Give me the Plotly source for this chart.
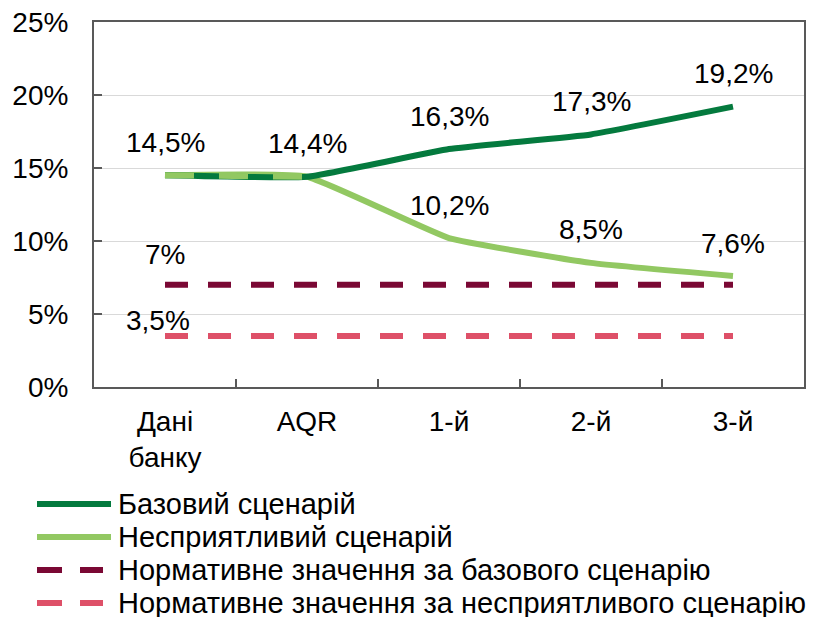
import plotly.graph_objects as go

categories = ["Дані<br>банку", "AQR", "1-й", "2-й", "3-й"]
base = [14.5, 14.4, 16.3, 17.3, 19.2]
adverse = [14.5, 14.4, 10.2, 8.5, 7.6]
norm_base = [7, 7, 7, 7, 7]
norm_adverse = [3.5, 3.5, 3.5, 3.5, 3.5]
y_ticks = [0, 5, 10, 15, 20, 25]

names = ["Базовий сценарій", "Несприятливий сценарій",
         "Нормативне значення за базового сценарію",
         "Нормативне значення за несприятливого сценарію"]

DARK = "rgb(4,122,62)"
LIGHT = "rgb(146,200,98)"
MAROON = "rgb(122,8,52)"
PINK = "rgb(222,80,104)"
FONT = "Liberation Sans, Arial, sans-serif"
FS = 28
LW = 6


def fmt(v):
    if float(v).is_integer():
        return "%d%%" % v
    return ("%.1f%%" % v).replace(".", ",")


fig = go.Figure()

fig.add_trace(go.Scatter(x=categories, y=norm_adverse, mode="lines", name=names[3],
                         line=dict(color=PINK, width=LW, dash="23px,20px")))
fig.add_trace(go.Scatter(x=categories, y=norm_base, mode="lines", name=names[2],
                         line=dict(color=MAROON, width=LW, dash="23px,20px")))
fig.add_trace(go.Scatter(x=categories, y=adverse, mode="lines", name=names[1],
                         line=dict(color=LIGHT, width=LW, shape="spline", smoothing=0.35)))
fig.add_trace(go.Scatter(x=categories, y=base, mode="lines", name=names[0],
                         line=dict(color=DARK, width=LW, shape="spline", smoothing=0.35)))
# first segment of adverse drawn dashed on top of the base line
fig.add_trace(go.Scatter(x=categories[:2], y=adverse[:2], mode="lines", name=names[1],
                         line=dict(color=LIGHT, width=LW, dash="29px,25px")))

annotations = []
for c, v in zip(categories, base):
    annotations.append(dict(x=c, y=v, text=fmt(v), showarrow=False, yshift=33))
for c, v in list(zip(categories, adverse))[2:]:
    annotations.append(dict(x=c, y=v, text=fmt(v), showarrow=False, yshift=33))
annotations.append(dict(x=categories[0], y=norm_base[0], text=fmt(norm_base[0]),
                        showarrow=False, yshift=30))
annotations.append(dict(x=categories[0], y=norm_adverse[0], text=fmt(norm_adverse[0]),
                        showarrow=False, yshift=15, xshift=-7))

# legend drawn below the chart (page body adds an 8px offset)
plot_l, plot_w, plot_b, plot_h = 86, 710, 379, 365
rows = [496, 529, 562, 595]
styles = [(DARK, "solid"), (LIGHT, "solid"), (MAROON, "25px,18px"), (PINK, "25px,18px")]
shapes = []
for name, (color, dash), row in zip(names, styles, rows):
    py = (plot_b - row) / plot_h
    x1 = 103 if dash == "solid" else 95
    shapes.append(dict(type="line", xref="paper", yref="paper",
                       x0=(29 - plot_l) / plot_w, x1=(x1 - plot_l) / plot_w, y0=py, y1=py,
                       line=dict(color=color, width=LW, dash=dash)))
    annotations.append(dict(xref="paper", yref="paper", x=(108 - plot_l) / plot_w, y=py,
                            xanchor="left", yanchor="middle", text=name, showarrow=False,
                            font=dict(size=29, color="black", family=FONT)))

fig.update_layout(
    width=807, height=616,
    margin=dict(l=86, r=11, t=14, b=237),
    plot_bgcolor="white", paper_bgcolor="white",
    font=dict(family=FONT, size=FS, color="black"),
    annotations=annotations, shapes=shapes,
    showlegend=False,
    xaxis=dict(showline=True, linecolor="#595959", linewidth=2, mirror=True,
               ticks="inside", tickson="boundaries", ticklen=8, tickcolor="#595959",
               tickwidth=2, showgrid=False, range=[-0.5, 4.5],
               ticklabelstandoff=8, automargin=False),
    yaxis=dict(range=[0, 25], tickvals=y_ticks, ticktext=[fmt(t) for t in y_ticks],
               showline=True, linecolor="#595959", linewidth=2, mirror=True,
               ticks="inside", ticklen=8, tickcolor="#595959", tickwidth=2,
               showgrid=True, gridcolor="#D9D9D9", gridwidth=1, zeroline=False,
               ticklabelstandoff=18, automargin=False, ticklabeloverflow="allow"),
)

fig.write_html("out.html")
